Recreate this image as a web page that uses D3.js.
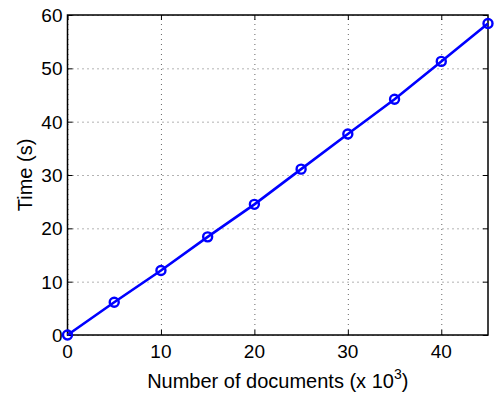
<!DOCTYPE html>
<html>
<head>
<meta charset="utf-8">
<script src="https://d3js.org/d3.v7.min.js"></script>
<style>
  body { margin: 0; background: #fff; }
  text { font-family: "Liberation Sans", Arial, sans-serif; }
</style>
</head>
<body>
<script>
// data
var docs = [0, 5, 10, 15, 20, 25, 30, 35, 40, 45];
var times = [0, 6.15, 12.1, 18.4, 24.5, 31.1, 37.7, 44.2, 51.3, 58.4];
var xTicks = [0, 10, 20, 30, 40];
var yTicks = [0, 10, 20, 30, 40, 50, 60];

var margin = {top: 15, right: 8, bottom: 59, left: 67.5}
  , width = 496 - margin.left - margin.right
  , height = 394 - margin.top - margin.bottom;

var x = d3.scaleLinear().domain([0, 45]).range([0, width]);
var y = d3.scaleLinear().domain([0, 60]).range([height, 0]);

var svg = d3.select("body").append("svg")
    .attr("width", 496)
    .attr("height", 394)
  .append("g")
    .attr("transform", "translate(" + margin.left + "," + margin.top + ")");

// grid
svg.append("g")
    .attr("transform", "translate(0," + height + ")")
    .call(d3.axisBottom(x).tickValues(xTicks).tickSize(-height).tickFormat(""))
    .call(function(g) { g.select(".domain").remove(); })
    .selectAll("line").attr("stroke", "#666").attr("stroke-dasharray", "1,4");

svg.append("g")
    .call(d3.axisLeft(y).tickValues(yTicks).tickSize(-width).tickFormat(""))
    .call(function(g) { g.select(".domain").remove(); })
    .selectAll("line").attr("stroke", "#666").attr("stroke-dasharray", "1,4");

// inner ticks on all four sides
function ticks(axis, t) {
  return svg.append("g").attr("transform", t)
    .call(axis.tickSizeInner(-5).tickSizeOuter(0).tickFormat(""))
    .call(function(g) { g.select(".domain").remove(); })
    .selectAll("line").attr("stroke", "#000");
}
ticks(d3.axisBottom(x).tickValues(xTicks), "translate(0," + height + ")");
ticks(d3.axisTop(x).tickValues(xTicks), "translate(0,0)");
ticks(d3.axisLeft(y).tickValues(yTicks), "translate(0,0)");
ticks(d3.axisRight(y).tickValues(yTicks), "translate(" + width + ",0)");

// frame
svg.append("rect")
    .attr("width", width).attr("height", height)
    .attr("fill", "none").attr("stroke", "#000").attr("stroke-width", 1.5);

// tick labels
svg.append("g").selectAll("text").data(xTicks).enter().append("text")
    .attr("x", function(d) { return x(d); })
    .attr("y", height + 23)
    .attr("text-anchor", "middle")
    .attr("font-size", 19)
    .text(function(d) { return d; });

svg.append("g").selectAll("text").data(yTicks).enter().append("text")
    .attr("x", -5)
    .attr("y", function(d) { return y(d) + 7; })
    .attr("text-anchor", "end")
    .attr("font-size", 19)
    .text(function(d) { return d; });

// line + markers
var line = d3.line()
    .x(function(d, i) { return x(docs[i]); })
    .y(function(d) { return y(d); });

svg.append("path")
    .attr("d", line(times))
    .attr("fill", "none")
    .attr("stroke", "#0000ff")
    .attr("stroke-width", 2.6);

svg.append("g").selectAll("circle").data(times).enter().append("circle")
    .attr("cx", function(d, i) { return x(docs[i]); })
    .attr("cy", function(d) { return y(d); })
    .attr("r", 4.5)
    .attr("fill", "none")
    .attr("stroke", "#0000ff")
    .attr("stroke-width", 2.4);

// axis labels
var xl = svg.append("text")
    .attr("x", width / 2)
    .attr("y", height + 53)
    .attr("text-anchor", "middle")
    .attr("font-size", 20);
xl.append("tspan").text("Number of documents (x 10");
xl.append("tspan").attr("dy", -9).attr("font-size", 14).text("3");
xl.append("tspan").attr("dy", 9).text(")");

svg.append("text")
    .attr("transform", "translate(" + (-35.5) + "," + (height / 2) + ") rotate(-90)")
    .attr("text-anchor", "middle")
    .attr("font-size", 20)
    .text("Time (s)");
</script>
</body>
</html>
